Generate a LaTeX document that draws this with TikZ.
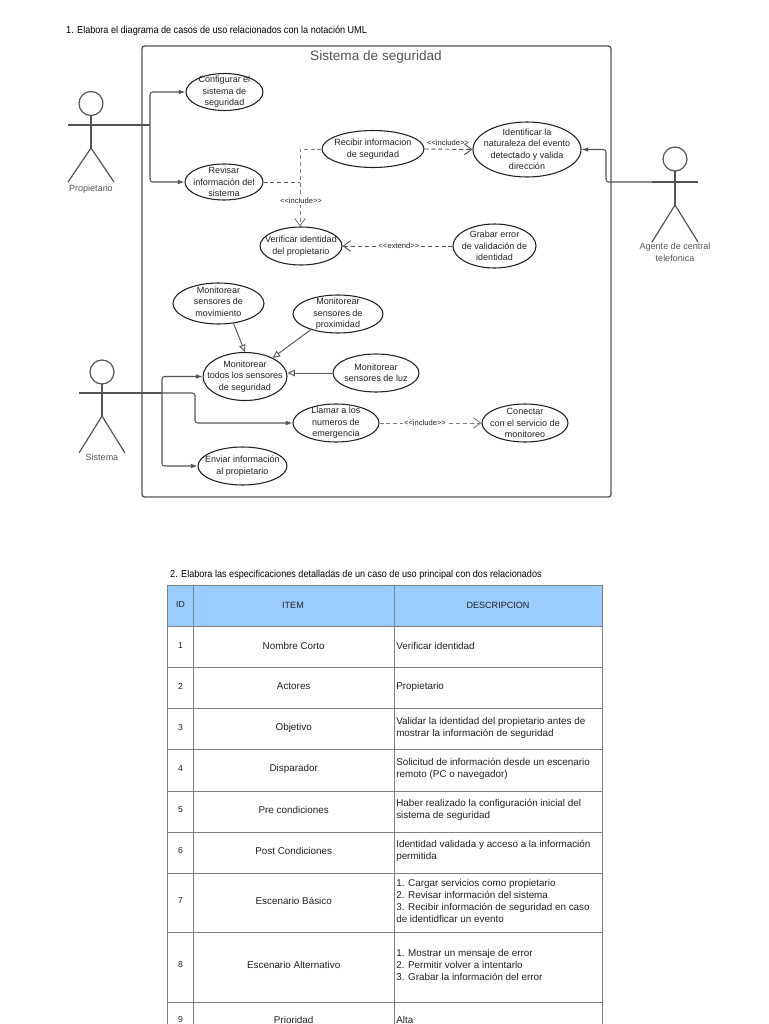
\documentclass[tikz,border=0pt]{standalone}
\usepackage{fontspec}
\setmainfont{Liberation Sans}
\usetikzlibrary{arrows.meta,shapes.geometric,calc}
\newcommand\fsUc{\fontsize{6.75}{8.6}\selectfont}
\newcommand\fsTb{\fontsize{7.4}{9.2}\selectfont}
\definecolor{ink}{HTML}{222222}
\definecolor{edge}{HTML}{555555}
\definecolor{grid}{HTML}{808080}
\definecolor{head}{HTML}{99CCFF}
\tikzset{
  uc/.style n args={2}{draw=ink,line width=0.8pt,ellipse,inner sep=0pt,fill=white,minimum width=#1*0.75pt,minimum height=#2*0.75pt},
  uctext/.style={align=center,font=\fsUc,text=ink,inner sep=0pt},
  actorline/.style={draw=edge,line width=0.9pt},
  assoc/.style={draw=edge,line width=0.8pt,rounded corners=2pt,-{Latex[length=5pt,width=3.6pt]}},
  plainline/.style={draw=edge,line width=0.8pt,rounded corners=2pt},
  gen/.style={draw=edge,line width=0.7pt,-{Triangle[open,fill=white,length=5.5pt,width=5pt]}},
  dep/.style={draw=#1,line width=0.7pt,dash pattern=on 3pt off 2.2pt,-{Straight Barb[length=5.5pt,width=8pt]}},
  deph/.style={draw=#1,line width=0.7pt,dash pattern=on 3pt off 2.2pt,rounded corners=2pt},
  stereo/.style={font=\fontsize{5.7}{6.5}\selectfont,text=ink,inner sep=0.6pt},
  actorlabel/.style={font=\fsUc,text=edge,align=center,inner sep=0pt,anchor=north},
  heading/.style={font=\fontsize{7.58}{9}\selectfont,text=black,inner sep=0pt,anchor=west},
  cellc/.style={font=\fsTb,text=ink,inner sep=0pt,anchor=center},
  celld/.style={font=\fsTb,text=ink,inner sep=0pt,anchor=west,align=left},
  cellid/.style={font=\fontsize{6.5}{8}\selectfont,text=ink,inner sep=0pt,anchor=center},
  rule/.style={draw=grid,line width=0.75pt}
}
\newcommand\actorfig[7]{%
  \draw[actorline] (#2,#3) circle[radius=#5*0.75pt];
  \draw[actorline] (#2,#3+#5) -- (#2,#6);
  \draw[actorline] (#2-#4,#7) -- (#2+#4,#7);
  \draw[actorline] (#2-#4,{#6+(#1)}) -- (#2,#6) -- (#2+#4,{#6+(#1)});
}
\begin{document}
\begin{tikzpicture}[x=0.75pt,y=-0.75pt]
\useasboundingbox (0,0) rectangle (768,1024);
\fill[white] (0,0) rectangle (768,1024);

\node[heading,xscale=0.9,transform shape] (h1) at (66,31) {1. Elabora el diagrama de casos de uso relacionados con la notación UML};
\node[heading,xscale=0.9,transform shape] (h2) at (170,575) {2. Elabora las especificaciones detalladas de un caso de uso principal con dos relacionados};

% system boundary
\draw[draw=edge,line width=1pt,rounded corners=2pt] (142,46) rectangle (611,497);
\node[font=\fontsize{10.2}{13}\selectfont,text=edge,inner sep=0pt] (title) at (376,56.5) {Sistema de seguridad};

% actors
\actorfig{34}{91}{103.5}{23}{12}{148}{125}
\node[actorlabel] (lp) at (91,185) {Propietario};
\actorfig{37}{675}{159}{23}{12}{205}{182}
\node[actorlabel] (la) at (675,243) {Agente de central\\telefonica};
\actorfig{37}{102}{372}{23}{12}{416}{393}
\node[actorlabel] (ls) at (102,454) {Sistema};
\coordinate (pR) at (114,125);
\coordinate (pJ) at (150,125);
\coordinate (aL) at (652,182);
\coordinate (aJ) at (606,182);
\coordinate (sR) at (125,393);
\coordinate (sJ) at (162,393);
\coordinate (sK) at (195,393);

% use cases
\node[uc={77}{37},label={[uctext]center:Configurar el\\sistema de\\seguridad}] (conf) at (224.5,92) {};
\node[uc={78}{36},label={[uctext]center:Revisar\\información del\\sistema}] (rev) at (224,182) {};
\node[uc={102}{37},label={[uctext]center:Recibir informacion\\de seguridad}] (rec) at (373,149) {};
\node[uc={108}{55},label={[uctext]center:Identificar la\\naturaleza del evento\\detectado y valida\\dirección}] (iden) at (527,149.5) {};
\node[uc={82}{38},label={[uctext]center:Verificar identidad\\del propietario}] (ver) at (301,246) {};
\node[uc={83}{44},label={[uctext]center:Grabar error\\de validación de\\identidad}] (grab) at (494.5,246) {};
\node[uc={91}{41},label={[uctext,yshift=1.5pt]center:Monitorear\\sensores de\\movimiento}] (mov) at (218.5,303.5) {};
\node[uc={90}{38},label={[uctext]center:Monitorear\\sensores de\\proximidad}] (prox) at (338,314) {};
\node[uc={84}{48},label={[uctext]center:Monitorear\\todos los sensores\\de seguridad}] (todos) at (245,376.5) {};
\node[uc={86}{38},label={[uctext]center:Monitorear\\sensores de luz}] (luz) at (376,373) {};
\node[uc={86}{38},label={[uctext]center:Llamar a los\\numeros de\\emergencia}] (llam) at (336,423) {};
\node[uc={86}{38},label={[uctext]center:Conectar\\con el servicio de\\monitoreo}] (con) at (525,423) {};
\node[uc={89}{38},label={[uctext]center:Enviar información\\al propietario}] (env) at (242.5,466) {};

% associations
\draw[plainline] (pR) -- (pJ);
\draw[assoc] (pJ) |- (conf.west);
\draw[assoc] (pJ) |- (rev.west);
\draw[assoc] (aL) -- (aJ) |- (iden.east);
\draw[plainline] (sR) -- (sJ);
\draw[assoc] (sJ) |- (todos.west);
\draw[assoc] (sJ) |- (env.west);
\draw[assoc] (sJ) -- (sK) |- (llam.west);

% generalizations
\draw[gen] (mov.-53) -- (todos.90);
\draw[gen] (prox.210) -- (todos.34);
\draw[gen] (luz.west) -- (luz.west -| todos.east);

% dependencies
\coordinate (dj) at (300,182);
\draw[deph=edge] (rev.east) -- (dj);
\draw[dep=grid] (rec.west) -- (300,149) -- (dj) -- (ver.north -| dj);
\node[stereo,fill=white] (l1) at (301,201) {<{}<include>{}>};
\draw[dep=edge] (rec.east) -- (iden.west);
\node[stereo] (l2) at (448,142.5) {<{}<include>{}>};
\draw[dep=edge] (grab.west) -- (ver.east);
\node[stereo,fill=white] (l3) at (399,245.5) {<{}<extend>{}>};
\draw[dep=grid] (llam.east) -- (con.west);
\node[stereo,fill=white] (l4) at (425,423) {<{}<include>{}>};

% table
\fill[head] (167.5,585) rectangle (602.5,626);
\draw[rule] (167.5,1024) -- (167.5,585) -- (602.5,585) -- (602.5,1024);
\draw[rule] (193.5,585) -- (193.5,1024);
\draw[rule] (394,585) -- (394,1024);
\foreach \yy in {626,667.5,708.5,749.5,791,832,873,932,1002} {
  \draw[rule] (167.5,\yy) -- (602.5,\yy);
}
\node[cellid] (t0a) at (180.5,605) {ID};
\node[cellc,font=\fontsize{6.8}{8}\selectfont] (t0b) at (293,605) {ITEM};
\node[cellc,font=\fontsize{6.8}{8}\selectfont] (t0c) at (498,605) {DESCRIPCION};
\node[cellid] (t1a) at (180.5,645.5) {1};
\node[cellc] (t1b) at (293.7,645.5) {Nombre Corto};
\node[celld] (t1c) at (396,645.5) {Verificar identidad};
\node[cellid] (t2a) at (180.5,686.5) {2};
\node[cellc] (t2b) at (293.7,686.5) {Actores};
\node[celld] (t2c) at (396,686.5) {Propietario};
\node[cellid] (t3a) at (180.5,727.5) {3};
\node[cellc] (t3b) at (293.7,727.5) {Objetivo};
\node[celld] (t3c) at (396,728) {Validar la identidad del propietario antes de\\mostrar la información de seguridad};
\node[cellid] (t4a) at (180.5,768.5) {4};
\node[cellc] (t4b) at (293.7,768.5) {Disparador};
\node[celld] (t4c) at (396,769) {Solicitud de información desde un escenario\\remoto (PC o navegador)};
\node[cellid] (t5a) at (180.5,809.5) {5};
\node[cellc] (t5b) at (293.7,809.5) {Pre condiciones};
\node[celld] (t5c) at (396,810) {Haber realizado la configuración inicial del\\sistema de seguridad};
\node[cellid] (t6a) at (180.5,850.5) {6};
\node[cellc] (t6b) at (293.7,850.5) {Post Condiciones};
\node[celld] (t6c) at (396,851) {Identidad validada y acceso a la información\\permitida};
\node[cellid] (t7a) at (180.5,901) {7};
\node[cellc] (t7b) at (293.7,901) {Escenario Básico};
\node[celld] (t7c) at (396,901) {1. Cargar servicios como propietario\\2. Revisar información del sistema\\3. Recibir información de seguridad en caso\\de identidficar un evento};
\node[cellid] (t8a) at (180.5,965) {8};
\node[cellc] (t8b) at (293.7,965) {Escenario Alternativo};
\node[celld] (t8c) at (396,965) {1. Mostrar un mensaje de error\\2. Permitir volver a intentarlo\\3. Grabar la información del error};
\node[cellid] (t9a) at (180.5,1020) {9};
\node[cellc] (t9b) at (293.7,1020) {Prioridad};
\node[celld] (t9c) at (396,1020) {Alta};
\end{tikzpicture}
\end{document}
